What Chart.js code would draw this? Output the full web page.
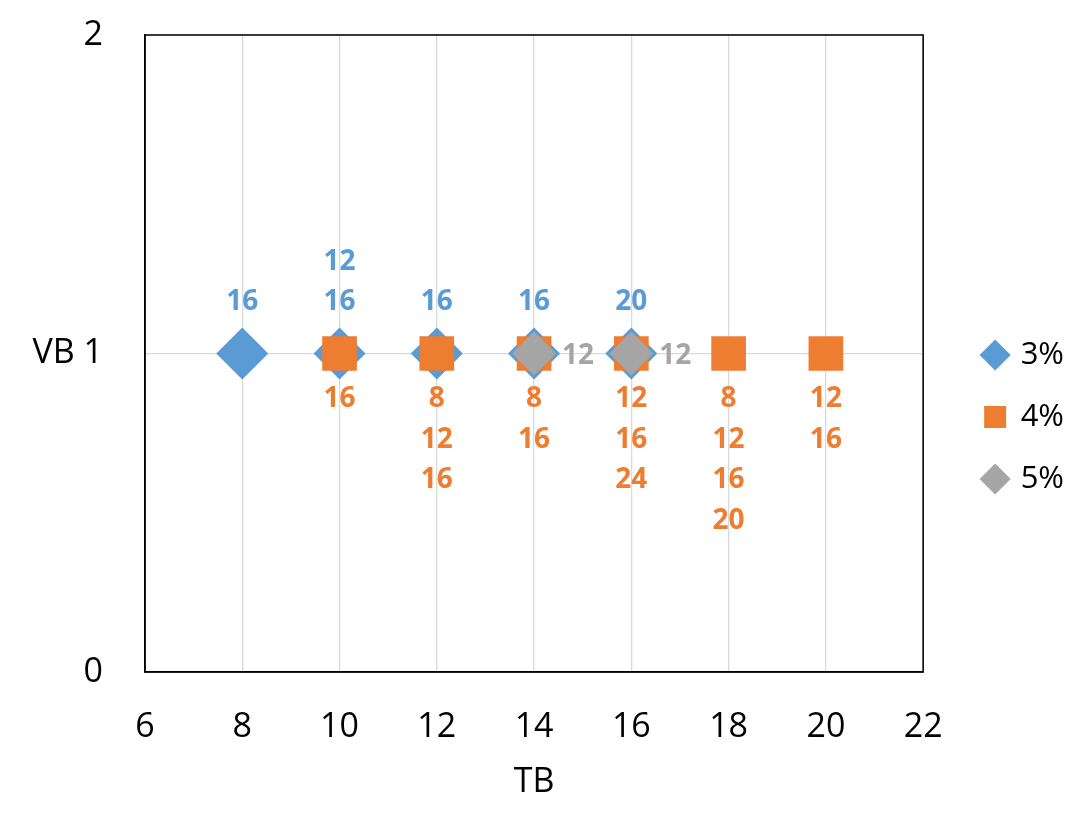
<!DOCTYPE html>
<html>
<head>
<meta charset="utf-8">
<script src="https://cdn.jsdelivr.net/npm/chart.js@4"></script>
<style>
  body { margin: 0; background: #fff; }
  #wrap { width: 1089px; height: 834px; }
</style>
</head>
<body>
<div id="wrap"><canvas id="tbChart"></canvas></div>
<script>
// series: TB position, VB value, and the numbers written next to each marker
const tb3 = [8, 10, 12, 14, 16];
const vb3 = [1, 1, 1, 1, 1];
const notes3 = [[16], [12, 16], [16], [16], [20]];

const tb4 = [10, 12, 14, 16, 18, 20];
const vb4 = [1, 1, 1, 1, 1, 1];
const notes4 = [[16], [8, 12, 16], [8, 16], [12, 16, 24], [8, 12, 16, 20], [12, 16]];

const tb5 = [14, 16];
const vb5 = [1, 1];
const notes5 = [[12], [12]];

const seriesNames = ['3%', '4%', '5%'];
const xTicks = [6, 8, 10, 12, 14, 16, 18, 20, 22];
const yTicks = [0, 1, 2];

const toPoints = (xs, ys) => xs.map((x, i) => ({ x: x, y: ys[i] }));

const BLUE = '#5B9BD5';
const ORANGE = '#ED7D31';
const GREY = '#A5A5A5';
const FONT = "'Open Sans', sans-serif";

// writes the note numbers above / below / right of each marker
const notesPlugin = {
  id: 'notes',
  afterDatasetsDraw(chart) {
    const ctx = chart.ctx;
    ctx.save();
    ctx.font = 'bold 28px ' + FONT;
    ctx.textBaseline = 'middle';
    chart.data.datasets.forEach((ds, di) => {
      const meta = chart.getDatasetMeta(di);
      meta.data.forEach((pt, i) => {
        const lines = ds.notes[i];
        ctx.fillStyle = ds.backgroundColor;
        lines.forEach((txt, k) => {
          if (ds.notePos === 'above') {
            ctx.textAlign = 'center';
            const n = lines.length - 1 - k;
            ctx.fillText(String(txt), pt.x, pt.y - 51 - n * 40);
          } else if (ds.notePos === 'below') {
            ctx.textAlign = 'center';
            ctx.fillText(String(txt), pt.x, pt.y + 46 + k * 40.5);
          } else {
            ctx.textAlign = 'left';
            ctx.fillText(String(txt), pt.x + 28, pt.y + 3);
          }
        });
      });
    });
    ctx.restore();
  }
};

// black box round the plot area
const framePlugin = {
  id: 'frame',
  beforeDatasetsDraw(chart) {
    const a = chart.chartArea;
    const ctx = chart.ctx;
    ctx.save();
    ctx.strokeStyle = '#000';
    ctx.lineWidth = 1.5;
    ctx.strokeRect(a.left, a.top, a.right - a.left, a.bottom - a.top);
    ctx.restore();
  }
};

new Chart(document.getElementById('tbChart').getContext('2d'), {
  type: 'scatter',
  data: {
    datasets: [
      {
        label: seriesNames[0],
        data: toPoints(tb3, vb3),
        notes: notes3,
        notePos: 'above',
        backgroundColor: BLUE,
        borderColor: BLUE,
        pointStyle: 'rectRot',
        pointRadius: 26,
        borderWidth: 0,
        order: 3,
      },
      {
        label: seriesNames[1],
        data: toPoints(tb4, vb4),
        notes: notes4,
        notePos: 'below',
        backgroundColor: ORANGE,
        borderColor: ORANGE,
        pointStyle: 'rect',
        pointRadius: 24.5,
        borderWidth: 0,
        order: 2,
      },
      {
        label: seriesNames[2],
        data: toPoints(tb5, vb5),
        notes: notes5,
        notePos: 'right',
        backgroundColor: GREY,
        borderColor: GREY,
        pointStyle: 'rectRot',
        pointRadius: 22,
        borderWidth: 0,
        order: 1,
      },
    ],
  },
  options: {
    responsive: true,
    maintainAspectRatio: false,
    animation: false,
    events: [],
    layout: { padding: { top: 35, bottom: 35, left: 0, right: 15 } },
    plugins: {
      tooltip: { enabled: false },
      legend: {
        position: 'right',
        labels: {
          usePointStyle: true,
          boxWidth: 20,
          boxHeight: 22,
          padding: 31,
          color: '#000',
          font: { family: FONT, size: 31 },
          sort: (a, b) => a.datasetIndex - b.datasetIndex,
        },
      },
    },
    scales: {
      x: {
        type: 'linear',
        min: xTicks[0],
        max: xTicks[xTicks.length - 1],
        afterBuildTicks: (s) => { s.ticks = xTicks.map((v) => ({ value: v })); },
        afterFit: (s) => { s.height = 127; s.paddingLeft = 0; s.paddingRight = 0; },
        grid: { color: '#D9D9D9', lineWidth: 1.3, drawTicks: false },
        border: { color: '#000', width: 1.5 },
        ticks: { color: '#000', padding: 35, font: { family: FONT, size: 34 } },
        title: {
          display: true,
          text: 'TB',
          color: '#000',
          padding: 0,
          font: { family: FONT, size: 34, lineHeight: 1 },
        },
      },
      y: {
        type: 'linear',
        min: yTicks[0],
        max: yTicks[yTicks.length - 1],
        afterBuildTicks: (s) => { s.ticks = yTicks.map((v) => ({ value: v })); },
        afterFit: (s) => { s.width = 145; s.paddingTop = 0; s.paddingBottom = 0; },
        grid: { color: '#D9D9D9', lineWidth: 1.3, drawTicks: false },
        border: { color: '#000', width: 1.5 },
        ticks: {
          color: '#000',
          padding: 42,
          font: { family: FONT, size: 34 },
          callback: (v) => (v === 1 ? 'VB 1' : v),
        },
      },
      gap: {
        type: 'linear',
        position: 'right',
        axis: 'y',
        afterFit: (s) => { s.width = 31; s.paddingTop = 0; s.paddingBottom = 0; },
        grid: { display: false },
        border: { display: false },
        ticks: { display: false },
      },
    },
  },
  plugins: [framePlugin, notesPlugin],
});
</script>
</body>
</html>
